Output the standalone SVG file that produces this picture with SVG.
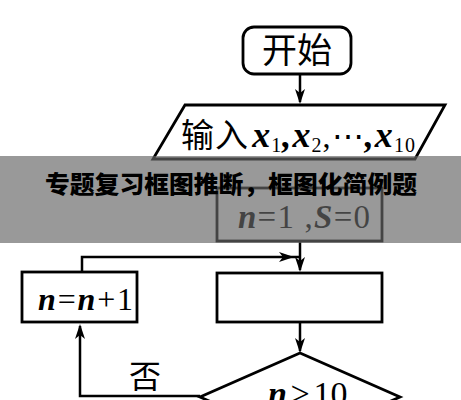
<svg xmlns="http://www.w3.org/2000/svg" width="461" height="400" viewBox="0 0 461 400">
<style>
.shape{fill:#fff;stroke:#000;stroke-width:2.8}
.line{fill:none;stroke:#000;stroke-width:2.5}
.cjk{font-family:"Noto Sans CJK SC",sans-serif;fill:#000}
.math{font-family:"Liberation Serif",serif;fill:#000}
.var{font-style:italic;font-weight:bold}
.banner{font-family:"Noto Sans CJK SC",sans-serif;font-weight:900;fill:#000}
</style>
<defs>
<path id="ah" d="M0,0 L-15,-5 L-11,0 L-15,5 Z" fill="#000"/>
</defs>
<rect width="461" height="400" fill="#fff"/>
<g id="connectors">
<path class="line" d="M300,74 V102"/>
<use href="#ah" transform="translate(300,104) rotate(90)"/>
<path class="line" d="M300,241 V270"/>
<use href="#ah" transform="translate(300,272) rotate(90)"/>
<path class="line" d="M300,322 V351"/>
<use href="#ah" transform="translate(300,353) rotate(90)"/>
<path class="line" d="M82,272 V257 H300"/>
<use href="#ah" transform="translate(294,257)"/>
<path class="line" d="M200,396 H80 V326"/>
<use href="#ah" transform="translate(80,324) rotate(-90)"/>
</g>
<g id="start">
<rect class="shape" x="243" y="27" width="108" height="47" rx="11"/>
<text class="cjk" x="297" y="63" font-size="35" text-anchor="middle">开始</text>
</g>
<g id="input">
<polygon class="shape" points="185,105 445,105 415,159 153,159"/>
<text x="181" y="147" font-size="30" textLength="234" lengthAdjust="spacing"><tspan class="cjk" font-size="33">输入</tspan><tspan class="math var" font-size="36" dx="3">x</tspan><tspan class="math" font-size="20" dy="5">1</tspan><tspan class="math var" font-size="36" dy="-5">,x</tspan><tspan class="math" font-size="20" dy="5">2</tspan><tspan class="math" font-size="32" dy="-5">,⋯</tspan><tspan class="math var" font-size="36">,x</tspan><tspan class="math" font-size="20" dy="5">10</tspan></text>
</g>
<g id="init">
<rect class="shape" x="217" y="188" width="165" height="53"/>
<text class="math" x="238" y="228" font-size="33" textLength="132" lengthAdjust="spacing"><tspan class="var">n</tspan>=1 ,<tspan class="var">S</tspan>=0</text>
</g>
<g id="process">
<rect class="shape" x="217" y="273" width="165" height="49"/>
</g>
<g id="increment">
<rect class="shape" x="22" y="272" width="115" height="50"/>
<text class="math" x="38" y="310" font-size="32" textLength="95" lengthAdjust="spacing"><tspan class="var">n</tspan>=<tspan class="var">n</tspan>+1</text>
</g>
<g id="decision">
<polygon class="shape" points="300,353 400,397 300,441 200,397"/>
<text class="math" x="268" y="405" font-size="34"><tspan class="var">n</tspan><tspan dx="4">≥</tspan><tspan dx="4">10</tspan></text>
</g>
<g id="labels">
<text class="cjk" x="129" y="388" font-size="32">否</text>
</g>
<g id="banner">
<rect x="0" y="156" width="461" height="87" fill="#666" fill-opacity="0.667"/>
<text class="banner" x="45" y="193" font-size="24" textLength="372" lengthAdjust="spacingAndGlyphs">专题复习框图推断，框图化简例题</text>
</g>
</svg>
